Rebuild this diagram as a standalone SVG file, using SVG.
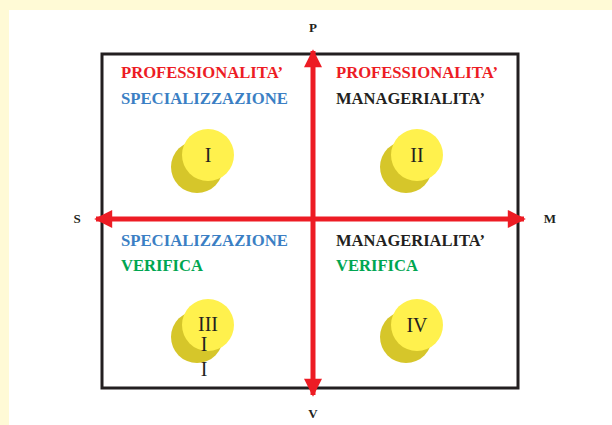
<svg xmlns="http://www.w3.org/2000/svg" width="612" height="425" viewBox="0 0 612 425">
<defs>
<style>
.lbl{font-family:"Liberation Serif","Times New Roman",serif;font-weight:bold;font-size:16.5px}
.ax{font-family:"Liberation Serif","Times New Roman",serif;font-weight:bold;font-size:13px;fill:#231f20;text-anchor:middle}
.num{font-family:"Liberation Serif","Times New Roman",serif;font-size:20px;fill:#231f20;text-anchor:middle}
.red{fill:#ed1c24}.blue{fill:#3b7fc4}.green{fill:#00a651}.blk{fill:#231f20}
.front{fill:#fff14d}.shadow{fill:#d6c62a}
.arr{stroke:#ed1c24;stroke-width:5;fill:none}
</style>
<marker id="ah" viewBox="0 0 10 10" refX="9" refY="5" markerWidth="4" markerHeight="3.6" orient="auto-start-reverse" markerUnits="strokeWidth">
<path d="M0,0 L10,5 L0,10 z" fill="#ed1c24"/>
</marker>
</defs>
<rect x="0" y="0" width="612" height="425" fill="#fffad6"/>
<rect x="9" y="10" width="603" height="415" fill="#ffffff"/>
<rect x="102" y="54" width="416" height="334" fill="none" stroke="#231f20" stroke-width="3"/>
<g id="connectors">
<line class="arr" x1="313" y1="395" x2="313" y2="51" marker-start="url(#ah)" marker-end="url(#ah)"/>
<line class="arr" x1="96" y1="219" x2="524" y2="219" marker-start="url(#ah)" marker-end="url(#ah)"/>
</g>
<g id="axisP"><text class="ax" x="313" y="32">P</text></g>
<g id="axisS"><text class="ax" x="77" y="223">S</text></g>
<g id="axisM"><text class="ax" x="550" y="223">M</text></g>
<g id="axisV"><text class="ax" x="313" y="418">V</text></g>
<g id="q1">
<text class="lbl red" x="121" y="78" textLength="162" lengthAdjust="spacingAndGlyphs">PROFESSIONALITA’</text>
<text class="lbl blue" x="121" y="104" textLength="167" lengthAdjust="spacingAndGlyphs">SPECIALIZZAZIONE</text>
<circle class="shadow" cx="197" cy="167" r="26"/>
<circle class="front" cx="208" cy="155" r="26"/>
<text class="num" x="208" y="162">I</text>
</g>
<g id="q2">
<text class="lbl red" x="336" y="78" textLength="162" lengthAdjust="spacingAndGlyphs">PROFESSIONALITA’</text>
<text class="lbl blk" x="336" y="104" textLength="149" lengthAdjust="spacingAndGlyphs">MANAGERIALITA’</text>
<circle class="shadow" cx="406" cy="167" r="26"/>
<circle class="front" cx="417" cy="155" r="26"/>
<text class="num" x="417" y="162">II</text>
</g>
<g id="q3">
<text class="lbl blue" x="121" y="246" textLength="167" lengthAdjust="spacingAndGlyphs">SPECIALIZZAZIONE</text>
<text class="lbl green" x="121" y="271" textLength="82" lengthAdjust="spacingAndGlyphs">VERIFICA</text>
<circle class="shadow" cx="197" cy="337" r="26"/>
<circle class="front" cx="208" cy="325" r="26"/>
<text class="num" x="208" y="331">III</text>
<text class="num" x="204" y="351">I</text>
<text class="num" x="204" y="376">I</text>
</g>
<g id="q4">
<text class="lbl blk" x="336" y="246" textLength="149" lengthAdjust="spacingAndGlyphs">MANAGERIALITA’</text>
<text class="lbl green" x="336" y="271" textLength="82" lengthAdjust="spacingAndGlyphs">VERIFICA</text>
<circle class="shadow" cx="406" cy="337" r="26"/>
<circle class="front" cx="417" cy="325" r="26"/>
<text class="num" x="417" y="332">IV</text>
</g>
</svg>
